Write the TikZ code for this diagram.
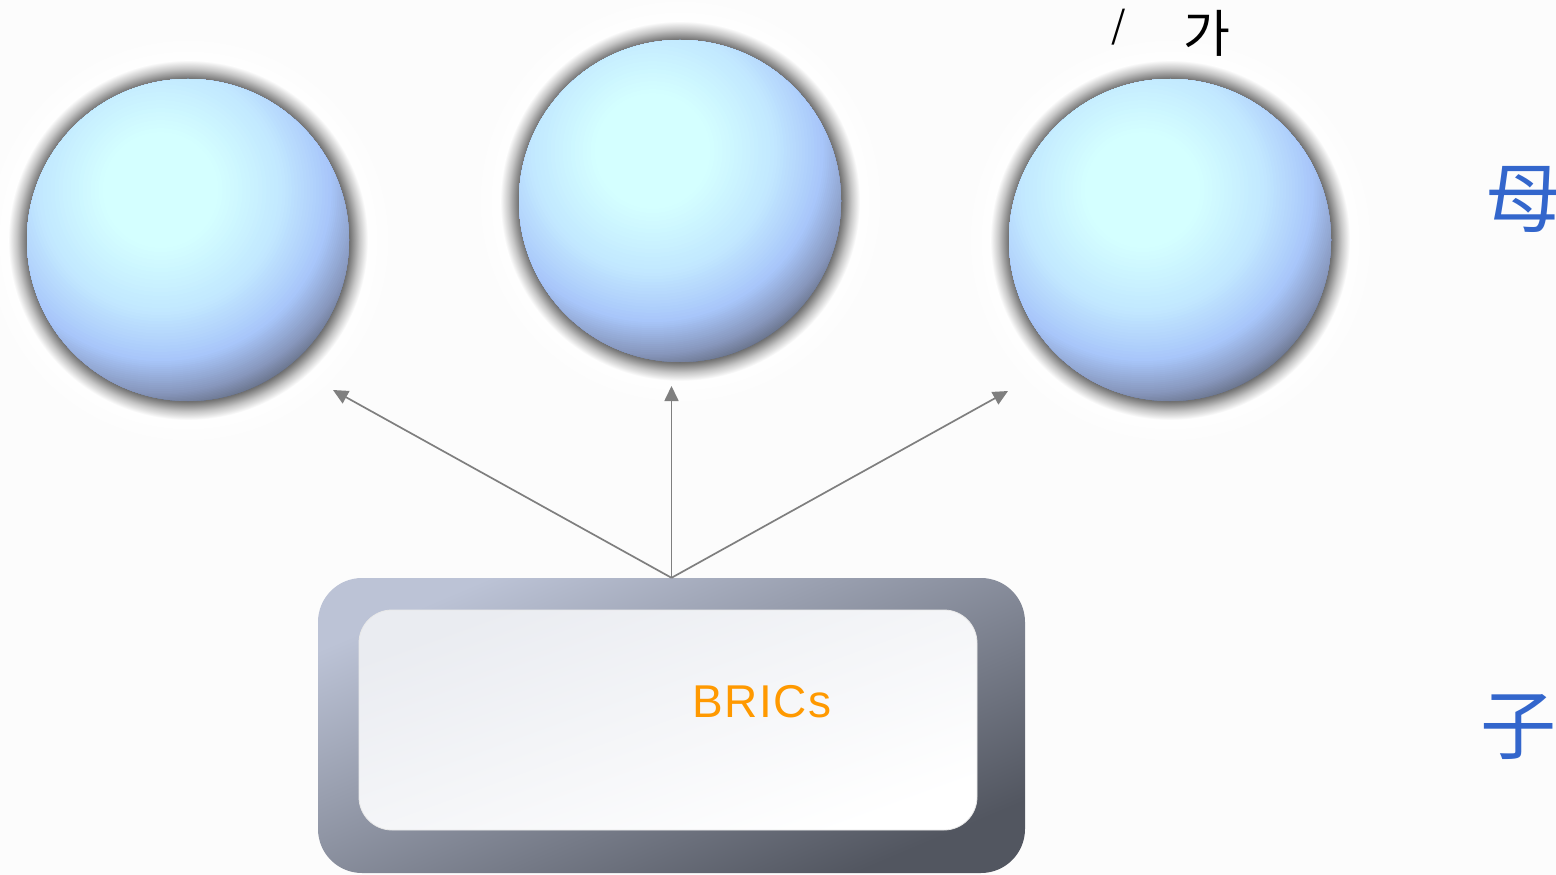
\documentclass[tikz,border=0pt]{standalone}
\usepackage{fontspec}
\setmainfont{Liberation Sans}
\newfontfamily\krfont{Noto Sans CJK KR}
\newfontfamily\scfont{Noto Sans CJK SC}
\usetikzlibrary{arrows.meta}

% palette
\definecolor{pagebg}{RGB}{252,252,252}
\definecolor{sphA}{RGB}{212,255,255}
\definecolor{sphB}{RGB}{194,232,255}
\definecolor{sphC}{RGB}{168,198,250}
\definecolor{sphD}{RGB}{136,152,190}
\definecolor{sphE}{RGB}{96,104,122}
\definecolor{rimgray}{RGB}{112,112,112}
\definecolor{boxlight}{RGB}{188,195,214}
\definecolor{boxdark}{RGB}{82,86,96}
\definecolor{panellight}{RGB}{234,236,241}
\definecolor{linkgray}{RGB}{127,127,127}
\definecolor{labelorange}{RGB}{255,153,0}
\definecolor{cjkblue}{RGB}{51,102,204}

% soft grey rim just outside each ball
\pgfdeclareradialshading{rimshadow}{\pgfpoint{0bp}{0bp}}{%
  color(0bp)=(rimgray); color(22.4bp)=(rimgray);
  color(23.8bp)=(rimgray!40!white); color(25bp)=(white)}
% faint white glow behind each ball
\pgfdeclareradialshading{glow}{\pgfpoint{0bp}{0bp}}{%
  color(0bp)=(white); color(21bp)=(white); color(25bp)=(pagebg)}

% one band of the ball gradient: circles round the highlight point (#1,#2),
% radius #3 -> #4, colour #5 -> #6
\newcommand\ballband[6]{%
  \foreach \j in {0,...,16}{%
    \pgfmathsetmacro\rr{#4-(#4-#3)*\j/16}%
    \pgfmathtruncatemacro\pp{100-100*\j/16}%
    \fill[#6!\pp!#5] (#1,#2) circle[radius=\rr];
  }}
% a glossy ball of radius 161 centred at (#1,#2), lit from the upper left
\newcommand\glossyball[2]{%
  \begin{scope}
    \clip (#1,#2) circle[radius=161];
    \pgfmathsetmacro\fx{#1-27.4}%
    \pgfmathsetmacro\fy{#2-49.9}%
    \ballband{\fx}{\fy}{203}{226}{sphD}{sphE}
    \ballband{\fx}{\fy}{171}{203}{sphC}{sphD}
    \ballband{\fx}{\fy}{122}{171}{sphB}{sphC}
    \ballband{\fx}{\fy}{58}{122}{sphA}{sphB}
  \end{scope}}

\begin{document}
\begin{tikzpicture}[x=1pt,y=-1pt,
  ball/.style={circle, inner sep=0pt, minimum size=322pt},
  outerbox/.style={rectangle, rounded corners=44pt, inner sep=0pt,
    minimum width=707pt, minimum height=295pt,
    top color=boxlight, bottom color=boxdark, shading angle=23},
  innerbox/.style={rectangle, rounded corners=33pt, inner sep=0pt,
    minimum width=618pt, minimum height=220pt,
    top color=panellight, bottom color=white, shading angle=20,
    draw=white!82!gray, line width=0.8pt},
  link/.style={draw=linkgray, line width=1.7pt,
    -{Triangle[length=15pt,width=14pt]}},
  bricslabel/.style={inner sep=0pt, text=labelorange,
    font=\fontsize{46}{55}\selectfont\addfontfeature{LetterSpace=3}},
  toplabel/.style={inner sep=0pt, text=black},
  sidelabel/.style={inner sep=0pt, text=cjkblue,
    font=\scfont\fontsize{76}{90}\selectfont}]

\fill[pagebg] (0,0) rectangle (1556,875);
\useasboundingbox (0,0) rectangle (1556,875);

% glow, rim and gradient body of the three balls
\foreach \cx/\cy in {188/240, 680/201, 1170/240}{
  \shade[shading=glow] (\cx,\cy) circle[radius=205];
  \shade[shading=rimshadow] (\cx,\cy) circle[radius=180];
  \glossyball{\cx}{\cy}
}

% the three balls
\node[ball] (s1) at (188,240) {};
\node[ball] (s2) at (680,201) {};
\node[ball] (s3) at (1170,240) {};

% frame and inner panel
\node[outerbox] (frame) at (671.5,725.5) {};
\node[innerbox] (panel) at (668,720) {};
\node[bricslabel] (brics) at (762,701.5) {BRICs};

% arrow ends just below the balls
\coordinate (t1) at (333,390);
\coordinate (t2) at (671.5,386);
\coordinate (t3) at (1008,391);

\draw[link] (frame.north) -- (t1);
\draw[link] (frame.north) -- (t2);
\draw[link] (frame.north) -- (t3);

% captions
\node[toplabel, font=\krfont\fontsize{37}{44}\selectfont] (slash) at (1119,27) {/};
\node[toplabel, font=\krfont\fontsize{51}{60}\selectfont] (ga) at (1207,33) {가};
\node[sidelabel] (mu) at (1523,200) {母};
\node[sidelabel] (zi) at (1518,727) {子};
\end{tikzpicture}
\end{document}
